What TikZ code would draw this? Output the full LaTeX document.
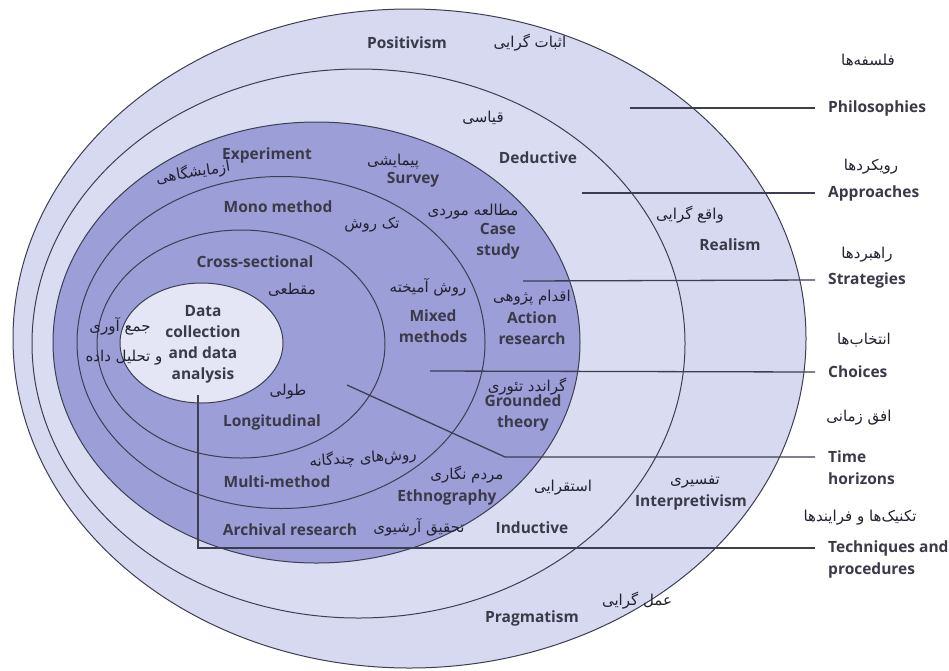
\documentclass[tikz,border=0pt]{standalone}
\usepackage{fontspec}
\setmainfont{Open Sans}
\newfontfamily\fa[Script=Arabic]{DejaVu Sans}
\TeXXeTstate=1
\definecolor{ringA}{HTML}{D6D9F0}
\definecolor{ringB}{HTML}{DADDF2}
\definecolor{darkC}{HTML}{9B9ED7}
\definecolor{innerC}{HTML}{E4E6F5}
\definecolor{lineC}{HTML}{3E3E52}
\definecolor{txtC}{HTML}{3A3A48}
\definecolor{faC}{HTML}{222230}
\begin{document}
\begin{tikzpicture}[x=1pt,y=-1pt,
  ring/.style={draw=lineC, line width=1pt},
  en/.style={font=\fontsize{15.5}{21}\selectfont\bfseries, text=txtC, inner sep=0pt, align=center},
  fat/.style={font={\fa\fontsize{15}{18}\selectfont}, text=faC, inner sep=0pt},
  lead/.style={draw=lineC, line width=1.3pt},
  lab/.style={en, anchor=west, align=left, inner xsep=0pt}
]
\useasboundingbox (0,0) rectangle (949,670);
\fill[white] (0,0) rectangle (949,670);
\clip (0,0) rectangle (949,670);

% rings
\draw[ring, fill=ringA] (409.5,338.5) ellipse [x radius=396.5pt, y radius=329.5pt];
\draw[ring, fill=ringB] (358.5,343.5) ellipse [x radius=326.5pt, y radius=274.5pt];
\draw[ring, fill=darkC] (316.5,342.5) ellipse [x radius=263.5pt, y radius=220.5pt];
\draw[ring, fill=darkC] (281,342.5) ellipse [x radius=204pt, y radius=166pt];
\draw[ring, fill=darkC] (241,344) ellipse [x radius=144pt, y radius=114pt];
\draw[ring, fill=innerC] (201.5,343) ellipse [x radius=81.5pt, y radius=60pt];

% right labels
\node[lab] (phil) at (828,108) {Philosophies};
\node[lab] (appr) at (828,193) {Approaches};
\node[lab] (strat) at (828,280) {Strategies};
\node[lab] (choi) at (828,372) {Choices};
\node[lab] (timeA) at (828,457) {Time};
\node[lab] (timeB) at (828,479) {horizons};
\node[lab] (techA) at (828,548) {Techniques and};
\node[lab] (techB) at (828,570) {procedures};

\node[fat] (philF) at (868,60) {\beginR فلسفه‌ها\endR};
\node[fat] (apprF) at (871,167) {\beginR رویکردها\endR};
\node[fat] (stratF) at (867,255) {\beginR راهبردها\endR};
\node[fat] (choiF) at (864,340) {\beginR انتخاب‌ها\endR};
\node[fat] (timeF) at (859,418) {\beginR افق زمانی\endR};
\node[fat] (techF) at (860,518) {\beginR تکنیک‌ها و فرایندها\endR};

% leader lines
\coordinate (philS) at (630,108);
\coordinate (apprS) at (582,193);
\coordinate (stratS) at (523,281);
\coordinate (choiS) at (430,371);
\coordinate (timeS) at (347,385);
\coordinate (timeK) at (505,457);
\coordinate (techS) at (198,395);
\coordinate (techK) at (198,548);
\draw[lead] (philS) -- ([xshift=-13pt]phil.west);
\draw[lead] (apprS) -- ([xshift=-13pt]appr.west);
\draw[lead] (stratS) -- ([xshift=-13pt]strat.west);
\draw[lead] (choiS) -- ([xshift=-13pt]choi.west);
\draw[lead] (timeS) -- (timeK) -- ([xshift=-13pt]timeA.west);
\draw[lead] (techS) -- (techK) -- ([xshift=-13pt]techA.west);

% philosophies ring
\node[en] (posi) at (407,43) {Positivism};
\node[fat] (posiF) at (530,43) {\beginR اثبات گرایی\endR};
\node[fat] (realF) at (690,215) {\beginR واقع گرایی\endR};
\node[en] (real) at (730,245) {Realism};
\node[fat] (intF) at (695,482) {\beginR تفسیری\endR};
\node[en] (intp) at (691,502) {Interpretivism};
\node[fat] (pragF) at (637,601) {\beginR عمل گرایی\endR};
\node[en] (prag) at (532,618) {Pragmatism};

% approaches ring
\node[fat] (dedF) at (483,118) {\beginR قیاسی\endR};
\node[en] (ded) at (538,158) {Deductive};
\node[fat] (indF) at (563,488) {\beginR استقرایی\endR};
\node[en] (ind) at (532,528) {Inductive};

% strategies ring
\node[en] (expe) at (267,155) {Experiment};
\node[fat, rotate=9] (expeF) at (193,172) {\beginR آزمایشگاهی\endR};
\node[fat] (survF) at (393,162) {\beginR پیمایشی\endR};
\node[en] (surv) at (413,180) {Survey};
\node[fat] (caseF) at (473,212) {\beginR مطالعه موردی\endR};
\node[en] (case) at (498,241) {Case\\study};
\node[fat] (actF) at (532,298) {\beginR اقدام پژوهی\endR};
\node[en] (act) at (532,328) {Action\\research};
\node[fat] (grndF) at (527,387) {\beginR گراندد تئوری\endR};
\node[en] (grnd) at (523,413) {Grounded\\theory};
\node[fat] (ethF) at (467,475) {\beginR مردم نگاری\endR};
\node[en] (eth) at (447,497) {Ethnography};
\node[en] (arch) at (290,530) {Archival research};
\node[fat] (archF) at (419,527) {\beginR تحقیق آرشیوی\endR};

% choices ring
\node[en] (mono) at (278,207) {Mono method};
\node[fat] (monoF) at (372,225) {\beginR تک روش\endR};
\node[fat] (mixF) at (428,287) {\beginR روش آمیخته\endR};
\node[en] (mix) at (433,326) {Mixed\\methods};
\node[fat, rotate=4] (multF) at (363,458) {\beginR روش‌های چندگانه\endR};
\node[en] (mult) at (277,482) {Multi-method};

% time horizons ring
\node[en] (cros) at (255,262) {Cross-sectional};
\node[fat] (crosF) at (292,290) {\beginR مقطعی\endR};
\node[fat] (longF) at (288,392) {\beginR طولی\endR};
\node[en] (long) at (272,422) {Longitudinal};

% centre
\node[en] (data) at (203,344) {Data\\collection\\and data\\analysis};
\node[fat] (dataF1) at (120,326) {\beginR جمع آوری\endR};
\node[fat] (dataF2) at (124,358) {\beginR و تحلیل داده\endR};
\end{tikzpicture}
\end{document}
